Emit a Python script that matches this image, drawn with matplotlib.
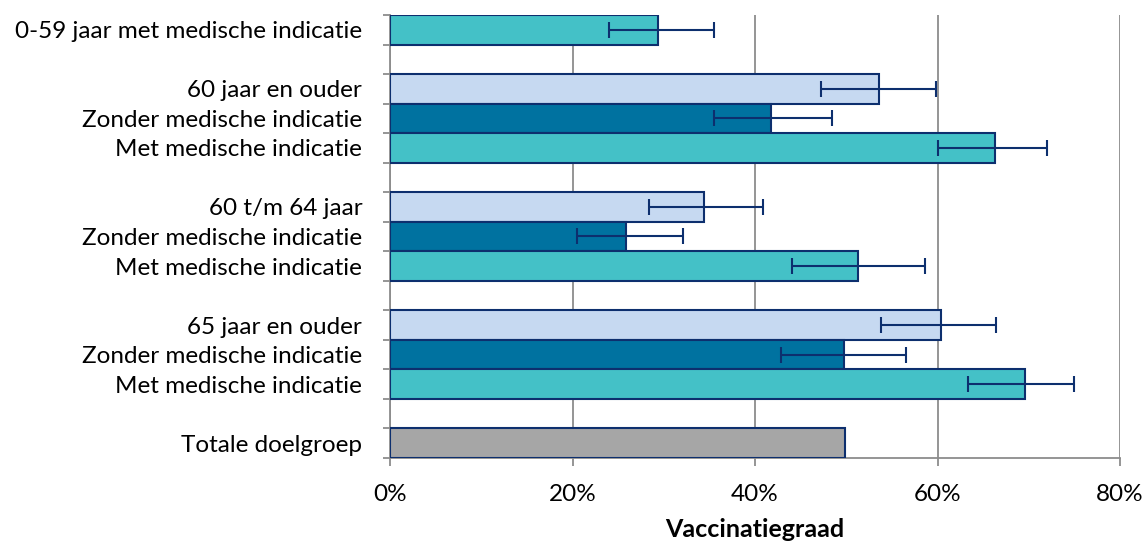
import numpy as np
import matplotlib
matplotlib.use('Agg')
import matplotlib.pyplot as plt
from matplotlib.ticker import FuncFormatter

# data, top to bottom ('' = empty row between groups)
labels = ['0-59 jaar met medische indicatie', '',
          '60 jaar en ouder', 'Zonder medische indicatie', 'Met medische indicatie', '',
          '60 t/m 64 jaar', 'Zonder medische indicatie', 'Met medische indicatie', '',
          '65 jaar en ouder', 'Zonder medische indicatie', 'Met medische indicatie', '',
          'Totale doelgroep']
kinds = ['met', '', 'alle', 'zonder', 'met', '', 'alle', 'zonder', 'met', '',
         'alle', 'zonder', 'met', '', 'totaal']
values = [29.4, np.nan, 53.6, 41.8, 66.3, np.nan, 34.4, 25.9, 51.3, np.nan,
          60.4, 49.8, 69.6, np.nan, 49.9]
ci_low = [24.0, np.nan, 47.2, 35.5, 60.0, np.nan, 28.4, 20.5, 44.0, np.nan,
          53.8, 42.8, 63.3, np.nan, np.nan]
ci_high = [35.5, np.nan, 59.8, 48.4, 72.0, np.nan, 40.9, 32.1, 58.6, np.nan,
           66.4, 56.5, 75.0, np.nan, np.nan]

kleur = {'met': '#44C1C7', 'zonder': '#0072A0', 'alle': '#C6D9F1', 'totaal': '#A6A6A6', '': 'white'}

plt.rcParams['font.family'] = ['Lato', 'DejaVu Sans']
fs = 17.5

fig = plt.figure(figsize=(11.45, 5.45), dpi=100)
ax = fig.add_axes([390/1145, 1-458/545, 730/1145, 443/545])

y = np.arange(len(labels))
vals = np.array(values)
ax.barh(y, np.nan_to_num(vals), height=1.0, color=[kleur[k] for k in kinds],
        edgecolor='#0D2F6E', linewidth=1.5, zorder=3)
# hide edges of empty rows
for i, v in enumerate(vals):
    if np.isnan(v):
        ax.patches[i].set_visible(False)

lo = np.array(ci_low)
hi = np.array(ci_high)
ok = ~np.isnan(lo)
ax.errorbar(vals[ok], y[ok], xerr=[vals[ok]-lo[ok], hi[ok]-vals[ok]], fmt='none',
            ecolor='#0D2F6E', elinewidth=1.5, capsize=5.5, capthick=1.5, zorder=4)

ax.set_xlim(0, 80)
ax.set_ylim(len(labels)-0.5, -0.5)
ax.set_xticks([0, 20, 40, 60, 80])
ax.xaxis.set_major_formatter(FuncFormatter(lambda v, p: '%d%%' % v))
ax.grid(axis='x', color='#8C8C8C', linewidth=1.3, zorder=0)

ax.set_yticks(y)
ax.set_yticklabels(labels)
ax.set_yticks(np.arange(len(labels)+1)-0.5, minor=True)
ax.tick_params(axis='y', which='major', length=0, pad=20, labelsize=fs)
ax.tick_params(axis='y', which='minor', length=5, width=1.3, color='#8C8C8C')
ax.tick_params(axis='x', length=6, width=1.3, color='#8C8C8C', labelsize=fs, pad=13)

for s in ['top', 'right']:
    ax.spines[s].set_visible(False)
for s in ['left', 'bottom']:
    ax.spines[s].set_color('#8C8C8C')
    ax.spines[s].set_linewidth(1.3)

ax.set_xlabel('Vaccinatiegraad', fontsize=18, fontweight='bold', labelpad=9)

fig.savefig('out.png', dpi=100)
